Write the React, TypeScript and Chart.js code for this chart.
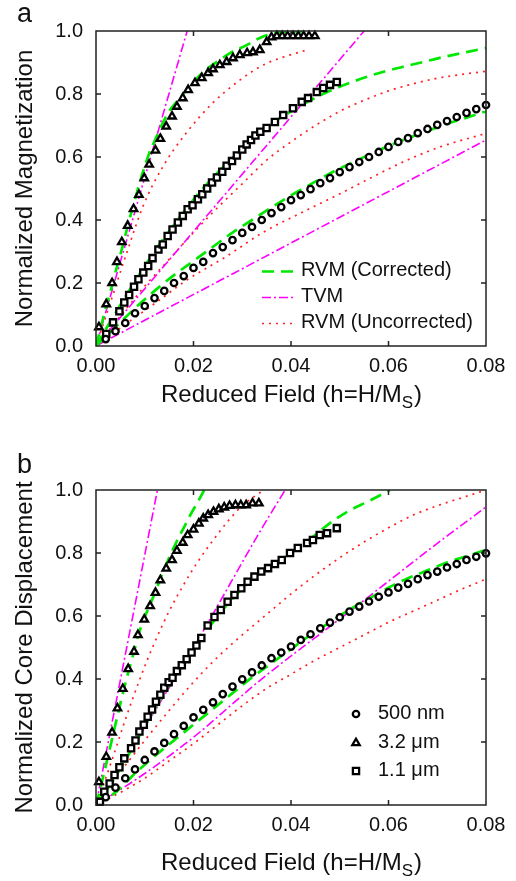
import React, { useEffect, useRef } from "react";
import { Chart, registerables } from "chart.js";

Chart.register(...registerables);

const FAMILY = '"Liberation Sans", Arial, Helvetica, sans-serif';
const INK = "#111111";
const GREEN = "#00e800";
const MAGENTA = "#ff00ff";
const RED = "#ff2222";

// ---------- axes / labels ----------
const xTicks = [0, 0.02, 0.04, 0.06, 0.08];
const yTicks = [0, 0.2, 0.4, 0.6, 0.8, 1.0];
const curveLabels = ["RVM (Corrected)", "TVM", "RVM (Uncorrected)"];
const sampleLabels = ["500 nm", "3.2 μm", "1.1 μm"];
const xTitleParts = ["Reduced Field (h=H/M", "S", ")"];
const yTitleA = "Normalized Magnetization";
const yTitleB = "Normalized Core Displacement";

// ---------- panel a : data ----------
const aTriX = [0.0006, 0.0021, 0.0033, 0.0043, 0.0053, 0.0065, 0.0077, 0.0088, 0.0099, 0.0109, 0.0122, 0.0132, 0.0144, 0.0156, 0.0166, 0.0178, 0.0189, 0.0203, 0.0217, 0.023, 0.024, 0.0254, 0.0268, 0.0281, 0.0295, 0.031, 0.0322, 0.0336, 0.035, 0.036, 0.0371, 0.0382, 0.0393, 0.0404, 0.0415, 0.0426, 0.0437, 0.0449];
const aTriY = [0.06, 0.133, 0.2, 0.267, 0.33, 0.382, 0.435, 0.48, 0.533, 0.576, 0.621, 0.658, 0.697, 0.729, 0.76, 0.787, 0.813, 0.835, 0.851, 0.867, 0.879, 0.892, 0.902, 0.914, 0.924, 0.93, 0.933, 0.94, 0.965, 0.98, 0.984, 0.984, 0.984, 0.984, 0.984, 0.984, 0.984, 0.984];

const aSqX = [0.0021, 0.0035, 0.0048, 0.0058, 0.0068, 0.0078, 0.0087, 0.0097, 0.0107, 0.0116, 0.0128, 0.0137, 0.0147, 0.0157, 0.0168, 0.0178, 0.0188, 0.0198, 0.0209, 0.0218, 0.0228, 0.0238, 0.0248, 0.0259, 0.0268, 0.0279, 0.0289, 0.03, 0.0309, 0.0318, 0.0327, 0.0337, 0.035, 0.0367, 0.0384, 0.0404, 0.0422, 0.0435, 0.0453, 0.0466, 0.048, 0.0494];
const aSqY = [0.038, 0.075, 0.11, 0.138, 0.162, 0.188, 0.212, 0.233, 0.254, 0.279, 0.306, 0.322, 0.349, 0.37, 0.392, 0.413, 0.434, 0.447, 0.466, 0.482, 0.5, 0.519, 0.535, 0.553, 0.572, 0.587, 0.605, 0.624, 0.64, 0.654, 0.668, 0.68, 0.692, 0.711, 0.733, 0.755, 0.775, 0.787, 0.806, 0.819, 0.829, 0.838];

const aCircX = [0.002, 0.004, 0.006, 0.008, 0.01, 0.012, 0.014, 0.016, 0.018, 0.02, 0.022, 0.024, 0.026, 0.028, 0.03, 0.032, 0.034, 0.036, 0.038, 0.04, 0.042, 0.044, 0.046, 0.048, 0.05, 0.052, 0.054, 0.056, 0.058, 0.06, 0.062, 0.064, 0.066, 0.068, 0.07, 0.072, 0.074, 0.076, 0.078, 0.08];
const aCircY = [0.022, 0.047, 0.073, 0.104, 0.127, 0.152, 0.175, 0.2, 0.222, 0.248, 0.267, 0.295, 0.314, 0.336, 0.359, 0.378, 0.4, 0.422, 0.441, 0.463, 0.479, 0.498, 0.517, 0.533, 0.552, 0.568, 0.584, 0.6, 0.616, 0.632, 0.648, 0.66, 0.676, 0.689, 0.702, 0.714, 0.727, 0.74, 0.752, 0.765];

const aG1X = [0, 0.001, 0.002, 0.003, 0.004, 0.005, 0.006, 0.007, 0.008, 0.009, 0.01, 0.011, 0.012, 0.013, 0.015, 0.0172, 0.0195, 0.022, 0.0248, 0.0275, 0.031, 0.0336, 0.037, 0.043];
const aG1Y = [0, 0.06, 0.12, 0.175, 0.235, 0.29, 0.35, 0.41, 0.465, 0.52, 0.57, 0.615, 0.65, 0.685, 0.745, 0.787, 0.829, 0.87, 0.902, 0.93, 0.956, 0.978, 0.994, 1.0];
const aG2X = [0, 0.004, 0.008, 0.012, 0.016, 0.02, 0.024, 0.028, 0.032, 0.036, 0.04, 0.044, 0.048, 0.052, 0.056, 0.06, 0.064, 0.068, 0.072, 0.076, 0.08];
const aG2Y = [0, 0.105, 0.205, 0.3, 0.385, 0.465, 0.535, 0.597, 0.655, 0.705, 0.745, 0.78, 0.81, 0.835, 0.857, 0.875, 0.89, 0.905, 0.92, 0.933, 0.946];
const aG3X = [0, 0.004, 0.008, 0.012, 0.016, 0.02, 0.024, 0.028, 0.032, 0.036, 0.04, 0.044, 0.048, 0.052, 0.056, 0.06, 0.064, 0.068, 0.072, 0.076, 0.08];
const aG3Y = [0, 0.06, 0.12, 0.175, 0.225, 0.27, 0.315, 0.36, 0.4, 0.44, 0.478, 0.513, 0.548, 0.578, 0.607, 0.635, 0.66, 0.683, 0.705, 0.725, 0.745];

const aT1X = [0, 0.0187];
const aT1Y = [0, 1.0];
const aT2X = [0, 0.055];
const aT2Y = [0, 1.0];
const aT3X = [0, 0.08];
const aT3Y = [0, 0.654];

const aR1X = [0, 0.003, 0.0065, 0.0096, 0.0137, 0.0185, 0.0239, 0.0295, 0.0343, 0.0384, 0.0433];
const aR1Y = [0, 0.14, 0.305, 0.442, 0.569, 0.676, 0.771, 0.844, 0.892, 0.917, 0.94];
const aR2X = [0, 0.005, 0.01, 0.015, 0.02, 0.025, 0.03, 0.035, 0.04, 0.045, 0.05, 0.055, 0.06, 0.065, 0.07, 0.075, 0.08];
const aR2Y = [0, 0.095, 0.19, 0.275, 0.36, 0.44, 0.515, 0.59, 0.648, 0.7, 0.745, 0.78, 0.81, 0.832, 0.85, 0.862, 0.872];
const aR3X = [0, 0.0064, 0.0125, 0.0187, 0.0267, 0.0342, 0.0433, 0.05, 0.0568, 0.0638, 0.0706, 0.08];
const aR3Y = [0, 0.073, 0.14, 0.21, 0.284, 0.36, 0.432, 0.483, 0.537, 0.59, 0.632, 0.675];

// ---------- panel b : data ----------
const bTriX = [0.0006, 0.0021, 0.0033, 0.0044, 0.0055, 0.0066, 0.0078, 0.0086, 0.0099, 0.0111, 0.0122, 0.0132, 0.0144, 0.0156, 0.0166, 0.0178, 0.0188, 0.02, 0.0211, 0.022, 0.023, 0.0241, 0.0252, 0.0263, 0.0274, 0.0286, 0.0297, 0.0308, 0.0321, 0.0334];
const bTriY = [0.073, 0.153, 0.23, 0.307, 0.369, 0.432, 0.487, 0.54, 0.589, 0.632, 0.674, 0.714, 0.751, 0.778, 0.807, 0.833, 0.857, 0.875, 0.894, 0.91, 0.921, 0.931, 0.939, 0.945, 0.95, 0.952, 0.952, 0.952, 0.958, 0.958];

const bSqX = [0.0008, 0.0017, 0.0028, 0.0038, 0.0048, 0.0058, 0.0072, 0.0081, 0.0089, 0.0098, 0.0106, 0.0115, 0.0123, 0.0132, 0.014, 0.0149, 0.0157, 0.0166, 0.0176, 0.0186, 0.0196, 0.0206, 0.0216, 0.0229, 0.0243, 0.0256, 0.027, 0.0284, 0.0298, 0.0311, 0.0325, 0.0339, 0.0353, 0.0367, 0.0381, 0.0398, 0.0414, 0.0433, 0.0445, 0.0459, 0.0474, 0.0494];
const bSqY = [0.01, 0.042, 0.068, 0.095, 0.12, 0.148, 0.18, 0.205, 0.233, 0.255, 0.28, 0.303, 0.328, 0.35, 0.372, 0.39, 0.404, 0.425, 0.444, 0.463, 0.484, 0.506, 0.53, 0.57, 0.597, 0.619, 0.645, 0.667, 0.688, 0.709, 0.725, 0.741, 0.752, 0.765, 0.778, 0.8, 0.816, 0.832, 0.841, 0.857, 0.863, 0.879];

const bCircX = [0.002, 0.004, 0.006, 0.008, 0.01, 0.012, 0.014, 0.016, 0.018, 0.02, 0.022, 0.024, 0.026, 0.028, 0.03, 0.032, 0.034, 0.036, 0.038, 0.04, 0.042, 0.044, 0.046, 0.048, 0.05, 0.052, 0.054, 0.056, 0.058, 0.06, 0.062, 0.064, 0.066, 0.068, 0.07, 0.072, 0.074, 0.076, 0.078, 0.08];
const bCircY = [0.025, 0.055, 0.085, 0.113, 0.143, 0.17, 0.197, 0.225, 0.251, 0.278, 0.302, 0.326, 0.352, 0.376, 0.399, 0.421, 0.443, 0.466, 0.484, 0.503, 0.524, 0.542, 0.561, 0.579, 0.596, 0.614, 0.63, 0.646, 0.661, 0.675, 0.69, 0.702, 0.717, 0.73, 0.741, 0.754, 0.765, 0.778, 0.788, 0.799];

const bG1X = [0, 0.001, 0.003, 0.0045, 0.006, 0.0075, 0.009, 0.0105, 0.012, 0.0135, 0.015, 0.0165, 0.018, 0.0195, 0.021, 0.0222];
const bG1Y = [0, 0.06, 0.19, 0.29, 0.385, 0.47, 0.555, 0.615, 0.67, 0.73, 0.785, 0.835, 0.88, 0.925, 0.965, 1.0];
const bG2X = [0, 0.004, 0.008, 0.012, 0.016, 0.02, 0.024, 0.028, 0.032, 0.036, 0.04, 0.044, 0.048, 0.052, 0.056, 0.0603];
const bG2Y = [0, 0.09, 0.195, 0.305, 0.405, 0.49, 0.58, 0.655, 0.715, 0.76, 0.8, 0.845, 0.895, 0.935, 0.965, 1.0];
const bG3X = [0, 0.004, 0.008, 0.012, 0.016, 0.02, 0.024, 0.028, 0.032, 0.036, 0.04, 0.044, 0.048, 0.052, 0.056, 0.06, 0.064, 0.068, 0.072, 0.076, 0.08];
const bG3Y = [0, 0.04, 0.1, 0.155, 0.205, 0.255, 0.305, 0.355, 0.405, 0.45, 0.495, 0.54, 0.58, 0.62, 0.655, 0.69, 0.72, 0.745, 0.77, 0.79, 0.81];

const bT1X = [0, 0.0126];
const bT1Y = [0, 1.0];
const bT2X = [0, 0.02, 0.0342, 0.0388];
const bT2Y = [0, 0.5, 0.883, 1.0];
const bT3X = [0, 0.01, 0.02, 0.0336, 0.052, 0.0709, 0.08];
const bT3Y = [0, 0.1, 0.215, 0.395, 0.614, 0.841, 0.946];

const bR1X = [0, 0.003, 0.006, 0.009, 0.012, 0.015, 0.018, 0.021, 0.024, 0.027, 0.03, 0.033, 0.0345];
const bR1Y = [0, 0.13, 0.27, 0.4, 0.515, 0.615, 0.7, 0.775, 0.84, 0.9, 0.95, 0.985, 1.0];
const bR2X = [0, 0.005, 0.01, 0.015, 0.02, 0.025, 0.03, 0.035, 0.04, 0.045, 0.05, 0.055, 0.06, 0.065, 0.07, 0.075, 0.08];
const bR2Y = [0, 0.105, 0.205, 0.3, 0.39, 0.47, 0.54, 0.605, 0.67, 0.73, 0.785, 0.835, 0.88, 0.92, 0.95, 0.975, 1.0];
const bR3X = [0, 0.005, 0.01, 0.015, 0.02, 0.025, 0.03, 0.035, 0.04, 0.045, 0.05, 0.055, 0.06, 0.065, 0.07, 0.075, 0.08];
const bR3Y = [0, 0.04, 0.085, 0.14, 0.195, 0.255, 0.315, 0.37, 0.415, 0.46, 0.5, 0.54, 0.58, 0.615, 0.65, 0.685, 0.717];

// ---------- helpers ----------
const toPts = (xs: number[], ys: number[]) => xs.map((x, i) => ({ x, y: ys[i] }));

const STYLE: Record<string, { color: string; width: number; dash: number[] }> = {
  g: { color: GREEN, width: 2.7, dash: [12, 7] },
  m: { color: MAGENTA, width: 1.6, dash: [9, 3, 2, 3] },
  r: { color: RED, width: 1.7, dash: [2, 5] },
};

function curve(label: string, xs: number[], ys: number[], kind: string) {
  const s = STYLE[kind];
  return {
    type: "line",
    label,
    data: toPts(xs, ys),
    borderColor: s.color,
    borderWidth: s.width,
    borderDash: s.dash,
    borderCapStyle: "butt",
    pointRadius: 0,
    fill: false,
    showLine: true,
    cubicInterpolationMode: "monotone",
    order: 5,
  };
}

const MARK = { circle: 3.2, triangle: 4.3, rect: 4.4 } as Record<string, number>;
const MARK_LW = 2.3;

function markers(label: string, xs: number[], ys: number[], shape: string, r: number) {
  return {
    type: "scatter",
    label,
    data: toPts(xs, ys),
    pointStyle: shape,
    pointRadius: r,
    pointBorderWidth: MARK_LW,
    pointBorderColor: "#000",
    pointBackgroundColor: "#fff",
    borderColor: "#000",
    backgroundColor: "#fff",
    showLine: false,
    clip: false,
    order: 1,
  };
}

function drawMarker(ctx: CanvasRenderingContext2D, shape: string, x: number, y: number) {
  const r = MARK[shape];
  ctx.save();
  ctx.setLineDash([]);
  ctx.lineWidth = MARK_LW;
  ctx.strokeStyle = "#000";
  ctx.fillStyle = "#fff";
  ctx.beginPath();
  if (shape === "circle") {
    ctx.arc(x, y, r, 0, Math.PI * 2);
  } else if (shape === "triangle") {
    ctx.moveTo(x, y - r);
    ctx.lineTo(x + r * 0.866, y + r * 0.5);
    ctx.lineTo(x - r * 0.866, y + r * 0.5);
    ctx.closePath();
  } else {
    const s = r * Math.SQRT1_2;
    ctx.rect(x - s, y - s, 2 * s, 2 * s);
  }
  ctx.fill();
  ctx.stroke();
  ctx.restore();
}

type Panel = {
  letter: string;
  letterBaseline: number;
  yTitle: string;
  padTop: number;
  xAxisHeight: number;
  xTitleBaseline: number;
  datasets: any[];
  legend: "curves" | "samples";
  legendRows: number[];
};

function decoPlugin(p: Panel) {
  return {
    id: "deco" + p.letter,
    afterDraw(chart: any) {
      const ctx: CanvasRenderingContext2D = chart.ctx;
      const { left, right, top, bottom } = chart.chartArea;
      const xs = chart.scales.x;
      const ys = chart.scales.y;
      ctx.save();
      // frame + inward ticks
      ctx.setLineDash([]);
      ctx.strokeStyle = "#222";
      ctx.lineWidth = 1.5;
      ctx.strokeRect(left, top, right - left, bottom - top);
      const tl = 5;
      ctx.beginPath();
      xTicks.slice(1, -1).forEach((v) => {
        const px = xs.getPixelForValue(v);
        ctx.moveTo(px, bottom);
        ctx.lineTo(px, bottom - tl);
        ctx.moveTo(px, top);
        ctx.lineTo(px, top + tl);
      });
      yTicks.slice(1, -1).forEach((v) => {
        const py = ys.getPixelForValue(v);
        ctx.moveTo(left, py);
        ctx.lineTo(left + tl, py);
        ctx.moveTo(right, py);
        ctx.lineTo(right - tl, py);
      });
      ctx.stroke();

      // panel letter
      ctx.fillStyle = INK;
      ctx.textAlign = "left";
      ctx.textBaseline = "alphabetic";
      ctx.font = `27px ${FAMILY}`;
      ctx.fillText(p.letter, 17, p.letterBaseline);

      // x axis title with subscript
      const big = `24px ${FAMILY}`;
      const small = `17px ${FAMILY}`;
      ctx.font = big;
      const w0 = ctx.measureText(xTitleParts[0]).width;
      const w2 = ctx.measureText(xTitleParts[2]).width;
      ctx.font = small;
      const w1 = ctx.measureText(xTitleParts[1]).width;
      const cx = (left + right) / 2;
      const x0 = cx - (w0 + w1 + w2) / 2;
      ctx.font = big;
      ctx.fillText(xTitleParts[0], x0, p.xTitleBaseline);
      ctx.font = small;
      ctx.fillText(xTitleParts[1], x0 + w0, p.xTitleBaseline + 6);
      ctx.font = big;
      ctx.fillText(xTitleParts[2], x0 + w0 + w1 + 1, p.xTitleBaseline);

      // legend
      ctx.font = `20px ${FAMILY}`;
      ctx.textBaseline = "middle";
      if (p.legend === "curves") {
        const kinds = ["g", "m", "r"];
        curveLabels.forEach((lab, i) => {
          const y = p.legendRows[i];
          const s = STYLE[kinds[i]];
          ctx.save();
          ctx.strokeStyle = s.color;
          ctx.lineWidth = s.width;
          ctx.setLineDash(s.dash);
          ctx.beginPath();
          ctx.moveTo(262, y + 1.5);
          ctx.lineTo(296, y + 1.5);
          ctx.stroke();
          ctx.restore();
          ctx.fillStyle = INK;
          ctx.fillText(lab, 301, y);
        });
      } else {
        const shapes = ["circle", "triangle", "rect"];
        sampleLabels.forEach((lab, i) => {
          const y = p.legendRows[i];
          drawMarker(ctx, shapes[i], 356, y + 1);
          ctx.fillStyle = INK;
          ctx.fillText(lab, 378, y);
        });
      }
      ctx.restore();
    },
  };
}

function buildConfig(p: Panel): any {
  return {
    type: "scatter",
    data: { datasets: p.datasets },
    options: {
      animation: false,
      responsive: true,
      maintainAspectRatio: false,
      events: [],
      layout: { padding: { top: p.padTop, right: 30, left: 0, bottom: 0 } },
      plugins: { legend: { display: false }, tooltip: { enabled: false } },
      scales: {
        x: {
          type: "linear",
          min: 0,
          max: 0.08,
          afterBuildTicks: (s: any) => {
            s.ticks = xTicks.map((v) => ({ value: v }));
          },
          afterFit: (s: any) => {
            s.height = p.xAxisHeight;
          },
          grid: { display: false, drawTicks: false },
          border: { display: false },
          ticks: {
            padding: 8,
            color: INK,
            font: { family: FAMILY, size: 20 },
            maxRotation: 0,
            autoSkip: false,
            callback: (v: number) => Number(v).toFixed(2),
          },
        },
        y: {
          type: "linear",
          min: 0,
          max: 1,
          afterBuildTicks: (s: any) => {
            s.ticks = yTicks.map((v) => ({ value: v }));
          },
          afterFit: (s: any) => {
            s.width = 96;
          },
          grid: { display: false, drawTicks: false },
          border: { display: false },
          ticks: {
            padding: 13,
            color: INK,
            font: { family: FAMILY, size: 20 },
            autoSkip: false,
            callback: (v: number) => Number(v).toFixed(1),
          },
          title: {
            display: true,
            text: p.yTitle,
            color: INK,
            font: { family: FAMILY, size: 24 },
            padding: { top: 10.5, bottom: 0 },
          },
        },
      },
    },
    plugins: [decoPlugin(p)],
  };
}

const panelA: Panel = {
  letter: "a",
  letterBaseline: 22,
  yTitle: yTitleA,
  padTop: 31,
  xAxisHeight: 94,
  xTitleBaseline: 402,
  legend: "curves",
  legendRows: [270, 296, 322],
  datasets: [
    markers(sampleLabels[0], aCircX, aCircY, "circle", MARK.circle),
    markers(sampleLabels[1], aTriX, aTriY, "triangle", MARK.triangle),
    markers(sampleLabels[2], aSqX, aSqY, "rect", MARK.rect),
    curve(curveLabels[0], aG1X, aG1Y, "g"),
    curve(curveLabels[0], aG2X, aG2Y, "g"),
    curve(curveLabels[0], aG3X, aG3Y, "g"),
    curve(curveLabels[1], aT1X, aT1Y, "m"),
    curve(curveLabels[1], aT2X, aT2Y, "m"),
    curve(curveLabels[1], aT3X, aT3Y, "m"),
    curve(curveLabels[2], aR1X, aR1Y, "r"),
    curve(curveLabels[2], aR2X, aR2Y, "r"),
    curve(curveLabels[2], aR3X, aR3Y, "r"),
  ],
};

const panelB: Panel = {
  letter: "b",
  letterBaseline: 33,
  yTitle: yTitleB,
  padTop: 50,
  xAxisHeight: 76,
  xTitleBaseline: 430,
  legend: "samples",
  legendRows: [273, 302, 330],
  datasets: [
    markers(sampleLabels[0], bCircX, bCircY, "circle", MARK.circle),
    markers(sampleLabels[1], bTriX, bTriY, "triangle", MARK.triangle),
    markers(sampleLabels[2], bSqX, bSqY, "rect", MARK.rect),
    curve(curveLabels[0], bG1X, bG1Y, "g"),
    curve(curveLabels[0], bG2X, bG2Y, "g"),
    curve(curveLabels[0], bG3X, bG3Y, "g"),
    curve(curveLabels[1], bT1X, bT1Y, "m"),
    curve(curveLabels[1], bT2X, bT2Y, "m"),
    curve(curveLabels[1], bT3X, bT3Y, "m"),
    curve(curveLabels[2], bR1X, bR1Y, "r"),
    curve(curveLabels[2], bR2X, bR2Y, "r"),
    curve(curveLabels[2], bR3X, bR3Y, "r"),
  ],
};

export default function App() {
  const refA = useRef<HTMLCanvasElement>(null);
  const refB = useRef<HTMLCanvasElement>(null);
  useEffect(() => {
    const a = new Chart(refA.current as HTMLCanvasElement, buildConfig(panelA));
    const b = new Chart(refB.current as HTMLCanvasElement, buildConfig(panelB));
    return () => {
      a.destroy();
      b.destroy();
    };
  }, []);
  return (
    <div style={{ position: "absolute", left: 0, top: 0, width: 516, height: 881, background: "#fff" }}>
      <div style={{ position: "absolute", left: 0, top: 0, width: 516, height: 440 }}>
        <canvas ref={refA} />
      </div>
      <div style={{ position: "absolute", left: 0, top: 440, width: 516, height: 441 }}>
        <canvas ref={refB} />
      </div>
    </div>
  );
}
